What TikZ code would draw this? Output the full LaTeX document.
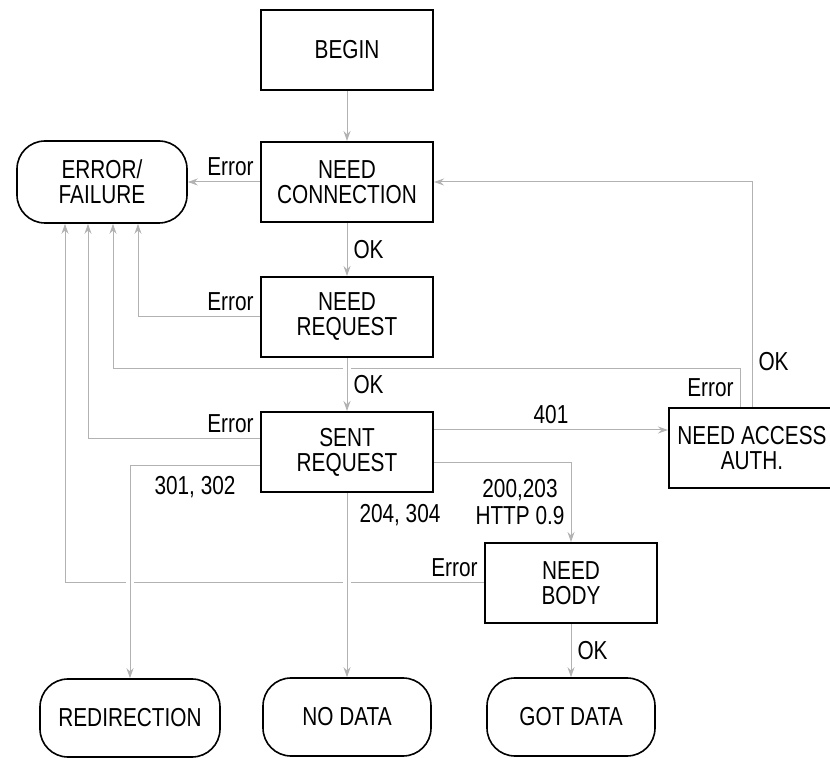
\documentclass[tikz,border=0pt]{standalone}
\usepackage{fontspec}
\setmainfont{Liberation Sans}[FakeStretch=0.8]
\usetikzlibrary{arrows.meta,backgrounds}

\begin{document}
\begin{tikzpicture}[x=0.5pt, y=-0.5pt,
  every node/.style={font=\fontsize{13}{12.5}\selectfont},
  state/.style={draw, line width=1pt, minimum width=86pt, minimum height=40pt, align=center, inner sep=1pt},
  term/.style={draw, line width=0.8pt, rounded corners=14pt, minimum width=84pt, minimum height=39pt, align=center, inner sep=1pt},
  flow/.style={draw=gray!60, line width=0.5pt, -{Stealth[length=5pt, width=3.5pt]}},
  gap/.style={preaction={draw=white, line width=4pt, -}},
  lbl/.style={inner sep=3pt}]
  \useasboundingbox (0,0) rectangle (830,758);
  % states
  \node[state] (begin) at (347,50) {BEGIN};
  \node[state] (needconn) at (347,182) {NEED\\CONNECTION};
  \node[state] (needreq) at (347,317) {NEED\\REQUEST};
  \node[state] (sentreq) at (347,452) {SENT\\REQUEST};
  \node[state, minimum width=83pt] (needauth) at (752,448) {NEED ACCESS\\AUTH.};
  \node[state] (needbody) at (571,583) {NEED\\BODY};
  % end states
  \node[term, minimum width=85pt, minimum height=41pt] (errfail) at (102,182) {ERROR/\\FAILURE};
  \node[term, minimum width=90pt] (redir) at (130,718) {REDIRECTION};
  \node[term] (nodata) at (347,717) {NO DATA};
  \node[term] (gotdata) at (571,717) {GOT DATA};
  \coordinate (autherr) at (740,369);
  % transitions
  \begin{scope}[on background layer]
    \draw[flow] (begin) -- (needconn);
    \draw[flow] (needconn) -- node[lbl, above left, pos=0] {Error} (errfail);
    \draw[flow] (needconn) -- node[lbl, right] {OK} (needreq);
    \draw[flow] (needreq.west) -| node[lbl, above left, pos=0] {Error} ([xshift=18pt]errfail.south);
    \draw[flow] ([xshift=-6pt]needauth.north) -- node[lbl, left] {Error} (autherr) -| ([xshift=5.5pt]errfail.south);
    \draw[flow] (needauth.north) |- node[lbl, right, pos=0.1] {OK} (needconn.east);
    \draw[flow] ([yshift=6.5pt]sentreq.west) -| node[lbl, above left, pos=0] {Error} ([xshift=-7pt]errfail.south);
    \draw[flow] (needbody.west) -| node[lbl, above left, pos=0] {Error} ([xshift=-18.5pt]errfail.south);
    \draw[flow] ([yshift=11pt]sentreq.east) -- node[lbl, above] {401} ([yshift=11pt]sentreq.east -| needauth.west);
    \draw[flow] ([yshift=-5.5pt]sentreq.east) -| node[lbl, left, pos=0.75, align=center, font=\fontsize{13}{13.5}\selectfont] {200,203\\HTTP 0.9} (needbody.north);
    \draw[flow, gap] (needreq) -- node[lbl, right] {OK} (sentreq);
    \draw[flow, gap] ([yshift=-7pt]sentreq.west) -| node[lbl, below, pos=0.25, yshift=-2pt] {301, 302} (redir.north);
    \draw[flow, gap] (sentreq) -- node[lbl, right, pos=0.12, xshift=3pt] {204, 304} (nodata);
    \draw[flow] (needbody) -- node[lbl, right] {OK} (gotdata);
  \end{scope}
\end{tikzpicture}
\end{document}
